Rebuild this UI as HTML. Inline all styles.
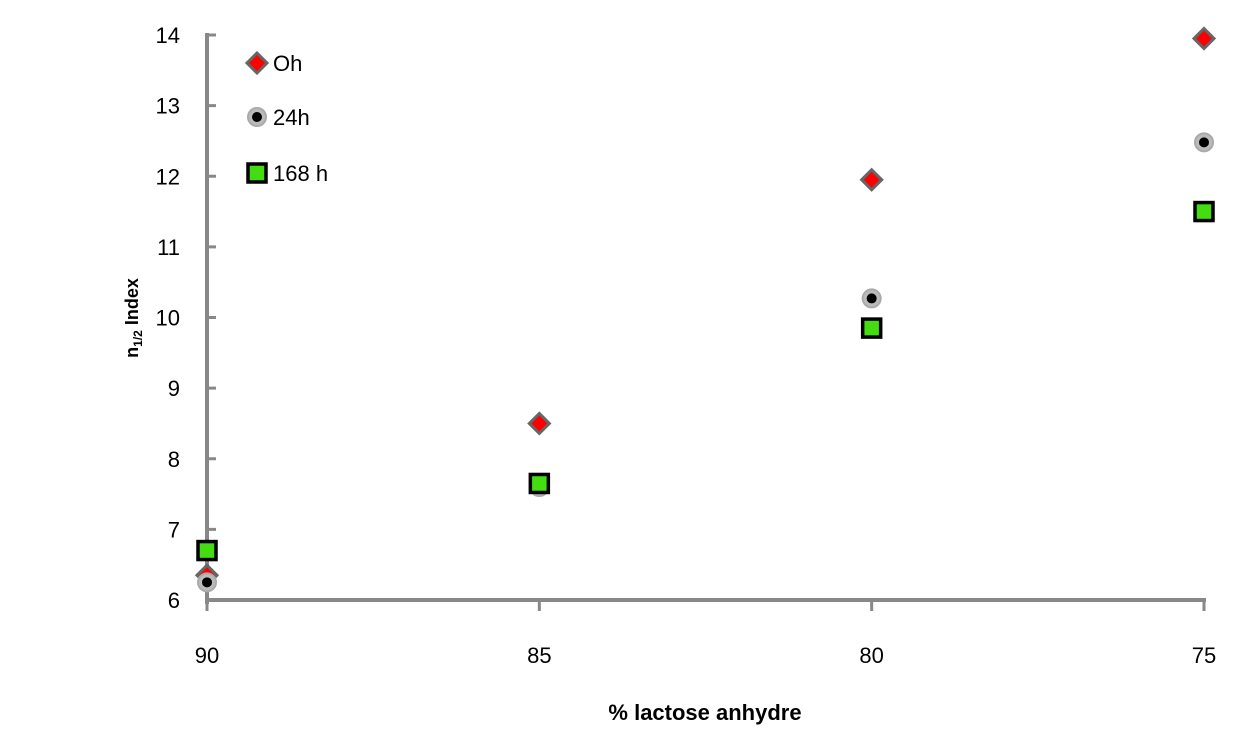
<!DOCTYPE html>
<html><head><meta charset="utf-8"><style>
body{margin:0;background:#fff;}
svg text{font-family:"Liberation Sans",sans-serif;}
</style></head><body>
<svg id="c" width="1238" height="727"></svg>
<script>
const categories=[90,85,80,75];
const series0h=[6.35,8.5,11.95,13.95];
const series24h=[6.25,7.6,10.27,12.48];
const series168h=[6.7,7.65,9.85,11.5];
const yTicks=[6,7,8,9,10,11,12,13,14];
const xTicks=[90,85,80,75];
const NS="http://www.w3.org/2000/svg";
const svg=document.getElementById('c');
function X(v){return 207+(90-v)/15*(1204-207);}
function Y(v){return 600-(v-6)/8*(600-35);}
function el(t,a,p){const e=document.createElementNS(NS,t);for(const k in a)e.setAttribute(k,a[k]);(p||svg).appendChild(e);return e;}
// axes
const ya=el('line',{x1:207,y1:33,x2:207,y2:604,stroke:'#888','stroke-width':4});


const xa=el('line',{x1:205,y1:600,x2:1206,y2:600,stroke:'#888','stroke-width':4});


yTicks.forEach(t=>{
  el('line',{x1:207,y1:Y(t),x2:216,y2:Y(t),stroke:'#888','stroke-width':3});
  const tx=el('text',{x:180,y:Y(t)+8,'text-anchor':'end','font-size':22,fill:'#000'});
  tx.textContent=t;
  
  
});
xTicks.forEach(t=>{
  el('line',{x1:X(t),y1:600,x2:X(t),y2:611,stroke:'#888','stroke-width':3});
  const tx=el('text',{x:X(t),y:663,'text-anchor':'middle','font-size':22,fill:'#000'});
  tx.textContent=t;
  
  
});
const xt=el('text',{x:705,y:720,'text-anchor':'middle','font-size':22,'font-weight':'bold',fill:'#000'});
xt.textContent='% lactose anhydre';


const yt=el('text',{transform:'translate(138,318) rotate(-90)','text-anchor':'middle','font-size':18,'font-weight':'bold',fill:'#000'});
yt.innerHTML='n<tspan font-size="12" dy="4">1/2</tspan><tspan dy="-4"> Index</tspan>';


function diamond(x,y,g){return el('polygon',{points:`${x},${y-10} ${x+10},${y} ${x},${y+10} ${x-10},${y}`,fill:'#f00',stroke:'#666','stroke-width':3},g);}
function circ(x,y,g){const a=el('g',{},g);el('circle',{cx:x,cy:y,r:9,fill:'#bbb',stroke:'#aaa','stroke-width':2},a);el('circle',{cx:x,cy:y,r:5,fill:'#000'},a);return a;}
function sq(x,y,g){return el('rect',{x:x-9,y:y-9,width:18,height:18,fill:'#44dd11',stroke:'#000','stroke-width':3.5},g);}
const groups=[[series0h,diamond,'series-0h'],[series24h,circ,'series-24h'],[series168h,sq,'series-168h']];
groups.forEach(([d,f,n])=>{
  const g=el('g',{});
  
  
  d.forEach((v,i)=>{const m=f(X(categories[i]),Y(v),g);
    
    });
});
const leg=[['Oh',diamond,63],['24h',circ,117],['168 h',sq,173]];
leg.forEach(([l,f,y])=>{
  const g=el('g',{});
  
  
  f(257,y,g);
  const t=el('text',{x:273,y:y+8,'font-size':22,fill:'#000'},g);t.textContent=l;
});
</script>
</body></html>
